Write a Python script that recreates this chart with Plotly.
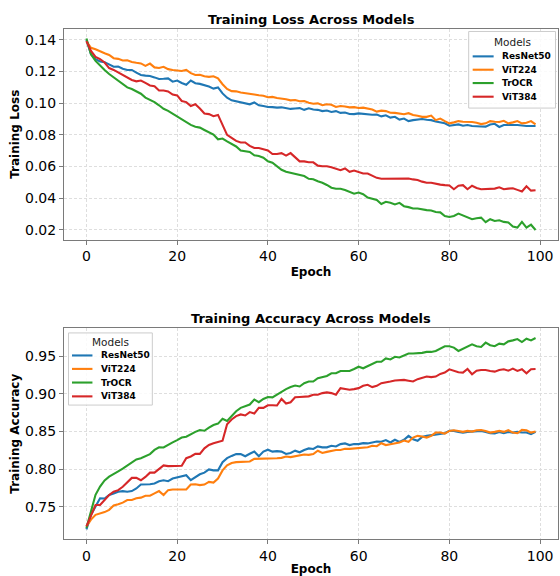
import plotly.graph_objects as go

epochs = list(range(100))
models = ["ResNet50", "ViT224", "TrOCR", "ViT384"]
colors = ["#1f77b4", "#ff7f0e", "#2ca02c", "#d62728"]

loss_resnet50 = [
    0.1400, 0.1309, 0.1278, 0.1263, 0.1259, 0.1242, 0.1230, 0.1232, 0.1218, 0.1210,
    0.1210, 0.1193, 0.1178, 0.1174, 0.1172, 0.1163, 0.1153, 0.1154, 0.1157, 0.1136,
    0.1143, 0.1128, 0.1117, 0.1143, 0.1126, 0.1122, 0.1115, 0.1105, 0.1092, 0.1100,
    0.1062, 0.1035, 0.1018, 0.1012, 0.1007, 0.1002, 0.0993, 0.1005, 0.0987, 0.0982,
    0.0976, 0.0975, 0.0972, 0.0974, 0.0971, 0.0964, 0.0967, 0.0969, 0.0958, 0.0968,
    0.0960, 0.0958, 0.0950, 0.0954, 0.0945, 0.0950, 0.0939, 0.0941, 0.0932, 0.0931,
    0.0936, 0.0932, 0.0930, 0.0927, 0.0928, 0.0917, 0.0924, 0.0909, 0.0914, 0.0897,
    0.0903, 0.0887, 0.0893, 0.0897, 0.0900, 0.0896, 0.0893, 0.0885, 0.0880, 0.0873,
    0.0858, 0.0862, 0.0866, 0.0858, 0.0862, 0.0856, 0.0853, 0.0853, 0.0852, 0.0866,
    0.0870, 0.0850, 0.0862, 0.0860, 0.0862, 0.0862, 0.0858, 0.0856, 0.0856, 0.0856,
]
loss_vit224 = [
    0.1390, 0.1350, 0.1340, 0.1325, 0.1315, 0.1305, 0.1284, 0.1280, 0.1270, 0.1271,
    0.1260, 0.1255, 0.1251, 0.1236, 0.1250, 0.1226, 0.1222, 0.1230, 0.1215, 0.1210,
    0.1205, 0.1203, 0.1210, 0.1190, 0.1178, 0.1180, 0.1170, 0.1166, 0.1170, 0.1157,
    0.1120, 0.1090, 0.1076, 0.1075, 0.1068, 0.1065, 0.1060, 0.1055, 0.1050, 0.1047,
    0.1038, 0.1040, 0.1033, 0.1030, 0.1025, 0.1018, 0.1020, 0.1012, 0.1014, 0.1003,
    0.0997, 0.0999, 0.0987, 0.0993, 0.0990, 0.0976, 0.0982, 0.0979, 0.0974, 0.0975,
    0.0970, 0.0972, 0.0966, 0.0960, 0.0947, 0.0953, 0.0950, 0.0940, 0.0939, 0.0933,
    0.0930, 0.0937, 0.0925, 0.0921, 0.0914, 0.0914, 0.0922, 0.0893, 0.0903, 0.0887,
    0.0873, 0.0879, 0.0887, 0.0883, 0.0883, 0.0881, 0.0877, 0.0868, 0.0873, 0.0887,
    0.0883, 0.0881, 0.0889, 0.0873, 0.0879, 0.0887, 0.0873, 0.0877, 0.0887, 0.0866,
]
loss_trocr = [
    0.1408, 0.1309, 0.1267, 0.1236, 0.1210, 0.1184, 0.1163, 0.1147, 0.1126, 0.1100,
    0.1090, 0.1076, 0.1060, 0.1035, 0.1022, 0.1007, 0.0987, 0.0965, 0.0952, 0.0935,
    0.0918, 0.0900, 0.0883, 0.0863, 0.0852, 0.0846, 0.0831, 0.0815, 0.0802, 0.0772,
    0.0777, 0.0759, 0.0745, 0.0727, 0.0702, 0.0696, 0.0692, 0.0671, 0.0667, 0.0656,
    0.0633, 0.0624, 0.0602, 0.0580, 0.0567, 0.0560, 0.0554, 0.0550, 0.0540, 0.0523,
    0.0520, 0.0507, 0.0498, 0.0484, 0.0467, 0.0460, 0.0460, 0.0452, 0.0440, 0.0429,
    0.0436, 0.0426, 0.0405, 0.0395, 0.0389, 0.0364, 0.0378, 0.0372, 0.0361, 0.0371,
    0.0350, 0.0344, 0.0335, 0.0335, 0.0328, 0.0325, 0.0323, 0.0313, 0.0311, 0.0288,
    0.0282, 0.0288, 0.0303, 0.0292, 0.0278, 0.0268, 0.0274, 0.0278, 0.0249, 0.0268,
    0.0257, 0.0261, 0.0251, 0.0247, 0.0222, 0.0215, 0.0251, 0.0215, 0.0233, 0.0200,
]
loss_vit384 = [
    0.1392, 0.1330, 0.1292, 0.1278, 0.1257, 0.1222, 0.1210, 0.1195, 0.1178, 0.1163,
    0.1147, 0.1138, 0.1143, 0.1128, 0.1112, 0.1107, 0.1080, 0.1080, 0.1074, 0.1055,
    0.1049, 0.1014, 0.1007, 0.0982, 0.0993, 0.0966, 0.0935, 0.0931, 0.0918, 0.0926,
    0.0862, 0.0800, 0.0781, 0.0762, 0.0752, 0.0752, 0.0731, 0.0717, 0.0717, 0.0710,
    0.0702, 0.0679, 0.0679, 0.0685, 0.0669, 0.0685, 0.0660, 0.0633, 0.0633, 0.0627,
    0.0627, 0.0606, 0.0602, 0.0602, 0.0596, 0.0586, 0.0577, 0.0588, 0.0567, 0.0575,
    0.0567, 0.0556, 0.0556, 0.0540, 0.0529, 0.0523, 0.0523, 0.0527, 0.0523, 0.0525,
    0.0523, 0.0525, 0.0519, 0.0515, 0.0505, 0.0498, 0.0498, 0.0490, 0.0486, 0.0483,
    0.0481, 0.0457, 0.0479, 0.0483, 0.0457, 0.0479, 0.0465, 0.0457, 0.0457, 0.0461,
    0.0461, 0.0469, 0.0457, 0.0461, 0.0463, 0.0453, 0.0443, 0.0476, 0.0448, 0.0451,
]

acc_resnet50 = [
    0.7200, 0.7394, 0.7504, 0.7613, 0.7610, 0.7657, 0.7678, 0.7700, 0.7709, 0.7700,
    0.7709, 0.7744, 0.7796, 0.7796, 0.7800, 0.7810, 0.7840, 0.7853, 0.7840, 0.7875,
    0.7888, 0.7906, 0.7919, 0.7853, 0.7897, 0.7932, 0.7954, 0.7997, 0.7984, 0.7984,
    0.8093, 0.8146, 0.8176, 0.8202, 0.8200, 0.8172, 0.8205, 0.8233, 0.8172, 0.8233,
    0.8259, 0.8233, 0.8240, 0.8233, 0.8202, 0.8215, 0.8246, 0.8224, 0.8255, 0.8276,
    0.8268, 0.8302, 0.8290, 0.8290, 0.8311, 0.8302, 0.8333, 0.8342, 0.8320, 0.8333,
    0.8333, 0.8346, 0.8342, 0.8355, 0.8368, 0.8364, 0.8386, 0.8355, 0.8390, 0.8362,
    0.8390, 0.8442, 0.8398, 0.8377, 0.8429, 0.8442, 0.8451, 0.8464, 0.8464, 0.8477,
    0.8508, 0.8508, 0.8495, 0.8486, 0.8495, 0.8499, 0.8508, 0.8508, 0.8495, 0.8477,
    0.8473, 0.8495, 0.8477, 0.8495, 0.8486, 0.8495, 0.8486, 0.8486, 0.8464, 0.8495,
]
acc_vit224 = [
    0.7240, 0.7330, 0.7394, 0.7407, 0.7430, 0.7460, 0.7517, 0.7534, 0.7556, 0.7591,
    0.7591, 0.7613, 0.7622, 0.7648, 0.7648, 0.7678, 0.7709, 0.7657, 0.7722, 0.7731,
    0.7731, 0.7735, 0.7731, 0.7796, 0.7800, 0.7788, 0.7796, 0.7831, 0.7822, 0.7875,
    0.7984, 0.8050, 0.8082, 0.8093, 0.8093, 0.8102, 0.8102, 0.8137, 0.8137, 0.8146,
    0.8146, 0.8137, 0.8146, 0.8150, 0.8168, 0.8160, 0.8175, 0.8180, 0.8195, 0.8190,
    0.8200, 0.8245, 0.8215, 0.8230, 0.8240, 0.8255, 0.8255, 0.8270, 0.8270, 0.8275,
    0.8285, 0.8290, 0.8290, 0.8310, 0.8305, 0.8345, 0.8320, 0.8330, 0.8340, 0.8355,
    0.8380, 0.8364, 0.8420, 0.8442, 0.8433, 0.8420, 0.8442, 0.8486, 0.8486, 0.8473,
    0.8508, 0.8517, 0.8508, 0.8495, 0.8508, 0.8499, 0.8517, 0.8521, 0.8508, 0.8486,
    0.8495, 0.8508, 0.8495, 0.8517, 0.8486, 0.8477, 0.8521, 0.8517, 0.8486, 0.8500,
]
acc_trocr = [
    0.7220, 0.7440, 0.7660, 0.7770, 0.7850, 0.7900, 0.7940, 0.7970, 0.8006, 0.8050,
    0.8090, 0.8130, 0.8146, 0.8170, 0.8200, 0.8255, 0.8290, 0.8288, 0.8325, 0.8356,
    0.8386, 0.8420, 0.8430, 0.8465, 0.8495, 0.8520, 0.8510, 0.8552, 0.8587, 0.8605,
    0.8670, 0.8640, 0.8705, 0.8770, 0.8814, 0.8836, 0.8858, 0.8924, 0.8889, 0.8932,
    0.8958, 0.8954, 0.8989, 0.9033, 0.9063, 0.9090, 0.9111, 0.9098, 0.9142, 0.9164,
    0.9164, 0.9208, 0.9220, 0.9238, 0.9273, 0.9273, 0.9304, 0.9304, 0.9304, 0.9330,
    0.9360, 0.9340, 0.9370, 0.9404, 0.9426, 0.9426, 0.9470, 0.9457, 0.9492, 0.9483,
    0.9513, 0.9535, 0.9535, 0.9535, 0.9544, 0.9557, 0.9557, 0.9570, 0.9600, 0.9632,
    0.9632, 0.9614, 0.9570, 0.9600, 0.9636, 0.9658, 0.9632, 0.9623, 0.9680, 0.9645,
    0.9632, 0.9667, 0.9658, 0.9697, 0.9710, 0.9728, 0.9688, 0.9732, 0.9710, 0.9741,
]
acc_vit384 = [
    0.7240, 0.7394, 0.7525, 0.7525, 0.7591, 0.7657, 0.7700, 0.7722, 0.7766, 0.7823,
    0.7884, 0.7884, 0.7853, 0.7897, 0.7954, 0.7954, 0.8006, 0.8050, 0.8041, 0.8045,
    0.8043, 0.8045, 0.8146, 0.8168, 0.8203, 0.8203, 0.8277, 0.8321, 0.8343, 0.8365,
    0.8378, 0.8596, 0.8660, 0.8705, 0.8727, 0.8713, 0.8758, 0.8740, 0.8814, 0.8814,
    0.8849, 0.8849, 0.8845, 0.8932, 0.8871, 0.8889, 0.8954, 0.8958, 0.8958, 0.8967,
    0.8989, 0.8989, 0.9010, 0.9020, 0.9010, 0.8989, 0.9076, 0.9068, 0.9054, 0.9063,
    0.9076, 0.9107, 0.9120, 0.9090, 0.9107, 0.9142, 0.9150, 0.9164, 0.9177, 0.9182,
    0.9186, 0.9175, 0.9164, 0.9195, 0.9208, 0.9230, 0.9222, 0.9230, 0.9265, 0.9282,
    0.9326, 0.9304, 0.9286, 0.9282, 0.9330, 0.9260, 0.9308, 0.9317, 0.9317, 0.9304,
    0.9295, 0.9317, 0.9326, 0.9308, 0.9335, 0.9304, 0.9326, 0.9273, 0.9326, 0.9330,
]

loss_series = [loss_resnet50, loss_vit224, loss_trocr, loss_vit384]
acc_series = [acc_resnet50, acc_vit224, acc_trocr, acc_vit384]

FONT = "DejaVu Sans"
W, H = 560, 576
ML, MR, MT, MB = 64, 1, 29, 31
PW, PH = W - ML - MR, H - MT - MB


def px_x(px):
    return (px - ML) / PW


def px_y(py):
    return (H - MB - py) / PH


def padded_range(series_list):
    lo = min(min(s) for s in series_list)
    hi = max(max(s) for s in series_list)
    pad = (hi - lo) * 0.05
    return [lo - pad, hi + pad]


xpad = (epochs[-1] - epochs[0]) * 0.05
xrange_ = [epochs[0] - xpad, epochs[-1] + xpad]

fig = go.Figure()
for name, col, ys in zip(models, colors, loss_series):
    fig.add_trace(go.Scatter(x=epochs, y=ys, name=name, mode="lines",
                             line=dict(color=col, width=2.1),
                             xaxis="x", yaxis="y", showlegend=False))
for name, col, ys in zip(models, colors, acc_series):
    fig.add_trace(go.Scatter(x=epochs, y=ys, name=name, mode="lines",
                             line=dict(color=col, width=2.1),
                             xaxis="x2", yaxis="y2", showlegend=False))

axis_common = dict(
    showline=True, linecolor="#7a7a7a", linewidth=1, mirror=True,
    ticks="outside", ticklen=4, tickcolor="#7a7a7a", tickwidth=1,
    showgrid=True, gridcolor="#dedede", griddash="3px,2px", gridwidth=0.8,
    zeroline=False, tickfont=dict(family=FONT, size=14, color="#000"),
)
title_font = dict(family=FONT, size=12, color="#000", weight="bold")

top_dom = [px_y(242), px_y(29)]
bot_dom = [px_y(545), px_y(332)]

shapes = []
annotations = [
    dict(text="Training Loss Across Models", xref="paper", yref="paper",
         x=0.5, y=top_dom[1], yanchor="bottom", yshift=0, showarrow=False,
         font=dict(family=FONT, size=13, color="#000", weight="bold")),
    dict(text="Training Accuracy Across Models", xref="paper", yref="paper",
         x=0.5, y=bot_dom[1], yanchor="bottom", yshift=0, showarrow=False,
         font=dict(family=FONT, size=13, color="#000", weight="bold")),
]


def add_legend(x0, y0, x1, y1, title_y, rows_y, line_x0, line_x1, text_x):
    shapes.append(dict(type="rect", xref="paper", yref="paper", layer="above",
                       x0=px_x(x0), x1=px_x(x1), y0=px_y(y1), y1=px_y(y0),
                       line=dict(color="#cccccc", width=1),
                       fillcolor="rgba(255,255,255,0.85)"))
    annotations.append(dict(text="Models", xref="paper", yref="paper",
                            x=px_x((x0 + x1) / 2), y=px_y(title_y),
                            xanchor="center", yanchor="middle", showarrow=False,
                            font=dict(family=FONT, size=10.5, color="#222")))
    for name, col, ry in zip(models, colors, rows_y):
        shapes.append(dict(type="line", xref="paper", yref="paper", layer="above",
                           x0=px_x(line_x0), x1=px_x(line_x1),
                           y0=px_y(ry), y1=px_y(ry),
                           line=dict(color=col, width=2.1)))
        annotations.append(dict(text=name, xref="paper", yref="paper",
                                x=px_x(text_x), y=px_y(ry),
                                xanchor="left", yanchor="middle", showarrow=False,
                                font=dict(family=FONT, size=9, color="#000",
                                          weight="bold")))


add_legend(469.5, 31.5, 556.5, 109, 42.5, [56.7, 70.2, 83.7, 97.5], 473.5, 494.5, 501)
add_legend(68.5, 336.5, 152.5, 409.5, 345.5, [359.3, 372.9, 386.7, 400.7], 72, 92.5, 99)

fig.update_layout(
    width=W, height=H,
    margin=dict(l=ML, r=MR, t=MT, b=MB),
    paper_bgcolor="white", plot_bgcolor="white",
    font=dict(family=FONT, color="#000"),
    showlegend=False,
    xaxis=dict(axis_common, domain=[0, 1], anchor="y", range=xrange_,
               tickvals=[0, 20, 40, 60, 80, 100],
               title=dict(text="Epoch", font=title_font, standoff=4)),
    yaxis=dict(axis_common, domain=top_dom, anchor="x", range=padded_range(loss_series),
               tickvals=[0.02, 0.04, 0.06, 0.08, 0.10, 0.12, 0.14], tickformat=".2f",
               title=dict(text="Training Loss", font=title_font, standoff=2)),
    xaxis2=dict(axis_common, domain=[0, 1], anchor="y2", range=xrange_,
                tickvals=[0, 20, 40, 60, 80, 100],
                title=dict(text="Epoch", font=title_font, standoff=3)),
    yaxis2=dict(axis_common, domain=bot_dom, anchor="x2", range=padded_range(acc_series),
                tickvals=[0.75, 0.80, 0.85, 0.90, 0.95], tickformat=".2f",
                title=dict(text="Training Accuracy", font=title_font, standoff=2)),
    shapes=shapes,
    annotations=annotations,
)

fig.write_html("out.html", config={"displayModeBar": False},
               post_script="document.body.style.margin='0';")
